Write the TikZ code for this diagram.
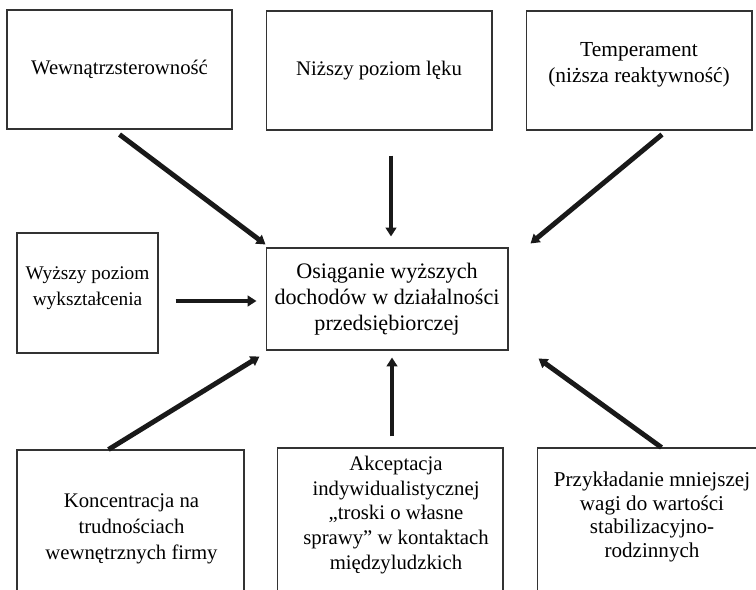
\documentclass[tikz,border=0pt]{standalone}
\usepackage{fontspec}
\setmainfont{Liberation Serif}
\usetikzlibrary{arrows.meta,calc}
\begin{document}
\begin{tikzpicture}[x=0.02cm,y=-0.02cm,
    box/.style={draw=black!80,line width=0.6pt,inner sep=0pt,align=center,font=\fontsize{11.8}{14.7}\selectfont},
    txt/.style={align=center,font=\fontsize{11.8}{14.2}\selectfont},
    arr/.style={line width=2.8pt,draw=black!90,-{Triangle[length=5pt,width=6pt]}}]
\useasboundingbox (0,0) rectangle (756,590);
\clip (0,0) rectangle (756,590);

\node[box,minimum width=4.5cm,minimum height=2.38cm] (tl) at (119.5,69.5) {Wewnątrzsterowność};
\node[box,minimum width=4.52cm,minimum height=2.38cm] (tm) at (379,70.5) {Niższy poziom lęku};
\node[box,minimum width=4.52cm,minimum height=2.38cm,text depth=9pt,font=\fontsize{12.2}{14.7}\selectfont] (tr) at (639,70.5) {Temperament\\(niższa reaktywność)};

\node[box,minimum width=2.82cm,minimum height=2.4cm,text depth=8pt,font=\fontsize{11}{15}\selectfont] (ml) at (87.5,293) {Wyższy poziom\\wykształcenia};
\node[box,minimum width=4.84cm,minimum height=2.04cm,font=\fontsize{12.6}{14.7}\selectfont] (c) at (387,299) {Osiąganie wyższych\\dochodów w działalności\\przedsiębiorczej};

\node[box,minimum width=4.54cm,minimum height=3.2cm] (bl) at (130.5,530) {};
\node[txt,font=\fontsize{11.8}{14.7}\selectfont] (blt) at (131.5,529) {Koncentracja na\\trudnościach\\wewnętrznych firmy};
\node[box,minimum width=4.52cm,minimum height=3.24cm] (bm) at (390,529) {};
\node[txt] (bmt) at (396,515) {Akceptacja\\indywidualistycznej\\„troski o własne\\sprawy” w kontaktach\\międzyludzkich};
\node[box,minimum width=4.66cm,minimum height=3.24cm] (br) at (653.5,529) {};
\node[txt,font=\fontsize{12}{13.6}\selectfont] (brt) at (652,517) {Przykładanie mniejszej\\wagi do wartości\\stabilizacyjno-\\rodzinnych};

\draw[arr] ($(tl.south)+(0,5)$) -- ($(c.north west)+(0,-3)$);
\draw[arr] ($(tm.south)+(12,25)$) -- ($(c.north)+(4,-11)$);
\draw[arr] ($(tr.south)+(23,4)$) -- ($(c.north east)+(22,-4)$);
\draw[arr] ($(ml.east)+(17,8)$) -- ($(c.west)+(-9,2)$);
\draw[arr] ($(bl.north)+(-22,0)$) -- ($(c.south west)+(-6,6)$);
\draw[arr] ($(bm.north)+(2,-11)$) -- ($(c.south)+(5,7)$);
\draw[arr] ($(br.north)+(8,0)$) -- ($(c.south east)+(30,8)$);
\end{tikzpicture}
\end{document}
